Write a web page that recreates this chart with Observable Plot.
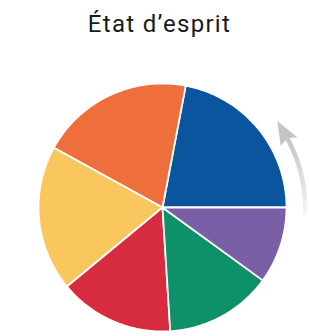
<!DOCTYPE html>
<html>
<head>
<meta charset="utf-8">
<script src="https://cdn.jsdelivr.net/npm/d3@7"></script>
<script src="https://cdn.jsdelivr.net/npm/@observablehq/plot@0.6"></script>
<style>
  body { margin: 0; background: #fff; }
  #title { font-family: Roboto, "Noto Sans", sans-serif; font-size: 24px; line-height: 24px; letter-spacing: 1.3px; height: 37.9px; padding-top: 12.1px; text-align: center; color: #1a1a1a; padding-left: 10px; box-sizing: content-box; white-space: nowrap; }
</style>
</head>
<body>
<div id="title">État d’esprit</div>
<div id="chart"></div>
<script>
// Data
const categories = ["Très bien", "Bien", "Assez bien", "Moyen", "Mal", "Très mal"];
const values = [22, 20, 19, 15, 14, 10];
const palette = ["#0b559f", "#ee6f3c", "#f9c75e", "#d72c40", "#0e9068", "#7a5fa6"];

// Build slice polygons (counter-clockwise from east)
const total = d3.sum(values);
const slicePts = [];
let a0 = 0;
categories.forEach((c, i) => {
  const a1 = a0 + (values[i] / total) * 2 * Math.PI;
  slicePts.push({category: c, x: 0, y: 0});
  const n = Math.max(2, Math.ceil((a1 - a0) / (Math.PI / 180)));
  for (let k = 0; k <= n; k++) {
    const a = a0 + (a1 - a0) * k / n;
    slicePts.push({category: c, x: Math.cos(a), y: Math.sin(a)});
  }
  slicePts.push({category: c, x: 0, y: 0});
  a0 = a1;
});

// Direction arrow (geometry)
const deg = Math.PI / 180;
const rA = 1.15;
const shaft = d3.range(-3, 29.5, 0.5).map(t => ({x: rA * Math.cos(t * deg), y: rA * Math.sin(t * deg)}));
const head = [
  {r: rA - 0.075, t: 27.5},
  {r: rA + 0.01, t: 37},
  {r: rA + 0.075, t: 27.5},
  {r: rA, t: 29},
  {r: rA - 0.075, t: 27.5}
].map(p => ({x: p.r * Math.cos(p.t * deg), y: p.r * Math.sin(p.t * deg)}));

const W = 309, H = 286, cx = 162, cy = 157, R = 124;
const plot = Plot.plot({
  width: W,
  height: H,
  margin: 0,
  x: {domain: [-cx / R, (W - cx) / R], range: [0, W], axis: null},
  y: {domain: [-(H - cy) / R, cy / R], range: [H, 0], axis: null},
  color: {domain: categories, range: palette},
  marks: [
    Plot.line(slicePts, {x: "x", y: "y", z: "category", fill: "category", stroke: "white", strokeWidth: 1.8, strokeLinejoin: "round"}),
    Plot.line(shaft, {x: "x", y: "y", stroke: "url(#arrowGrad)", strokeWidth: 4.5, strokeLinecap: "butt"}),
    Plot.line(head, {x: "x", y: "y", fill: "#c4c4c4", stroke: "none"})
  ]
});

// gradient definition for the arrow shaft
const ns = "http://www.w3.org/2000/svg";
const defs = document.createElementNS(ns, "defs");
const grad = document.createElementNS(ns, "linearGradient");
grad.setAttribute("id", "arrowGrad");
grad.setAttribute("x1", "0"); grad.setAttribute("y1", "0");
grad.setAttribute("x2", "0"); grad.setAttribute("y2", "1");
[["0%", "#c4c4c4"], ["100%", "#f6f6f6"]].forEach(([o, c]) => {
  const s = document.createElementNS(ns, "stop");
  s.setAttribute("offset", o); s.setAttribute("stop-color", c);
  grad.appendChild(s);
});
defs.appendChild(grad);
plot.insertBefore(defs, plot.firstChild);

document.getElementById("chart").appendChild(plot);
</script>
</body>
</html>
